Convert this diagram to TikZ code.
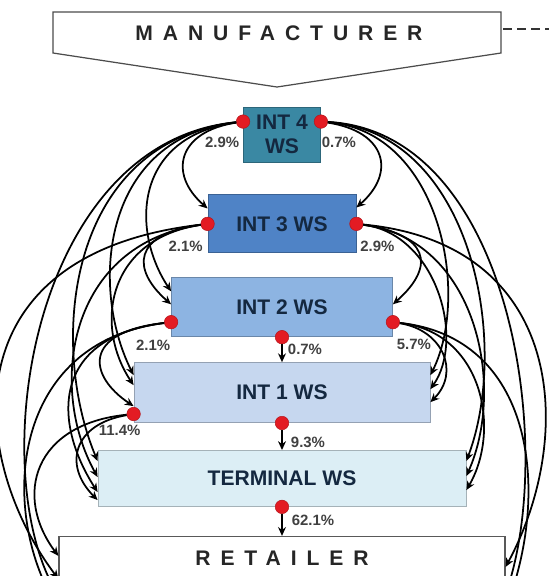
\documentclass[tikz,border=0pt]{standalone}
\usepackage{fontspec}
\setmainfont{Liberation Sans}
\newfontfamily\spacedfont[LetterSpace=47]{Liberation Sans}
\usetikzlibrary{arrows.meta, positioning, calc}
\definecolor{wsteal}{HTML}{3A88A3}
\definecolor{wsblue}{HTML}{4F83C6}
\definecolor{wsmid}{HTML}{8DB4E2}
\definecolor{wslight}{HTML}{C6D7EF}
\definecolor{wspale}{HTML}{DCEEF5}
\definecolor{dotred}{HTML}{E31B23}
\definecolor{wstext}{HTML}{142840}
\tikzset{
    wsbox/.style={rectangle, line width=0.5pt, align=center, inner sep=1pt, text=wstext, font=\bfseries\fontsize{12}{13.6}\selectfont},
    int4box/.style={wsbox, fill=wsteal, draw=wsteal!75!black, minimum width=1.54cm, minimum height=1.1cm},
    int3box/.style={wsbox, fill=wsblue, draw=wsblue!75!black, minimum width=2.96cm, minimum height=1.16cm},
    int2box/.style={wsbox, fill=wsmid, draw=wsmid!75!black, minimum width=4.42cm, minimum height=1.18cm},
    int1box/.style={wsbox, fill=wslight, draw=wslight!75!black, minimum width=5.92cm, minimum height=1.2cm},
    termbox/.style={wsbox, fill=wspale, draw=wspale!75!black, minimum width=7.36cm, minimum height=1.12cm},
    endbox/.style={rectangle, draw=black!65, line width=0.8pt, fill=white, text=black!85, font=\spacedfont\bfseries\fontsize{12}{14}\selectfont},
    reddot/.style={circle, fill=dotred, draw=dotred!80!black, line width=0.3pt, inner sep=0pt, minimum size=0.27cm},
    pct/.style={inner sep=0pt, text=black!75, font=\bfseries\fontsize{8.5}{10}\selectfont},
    flow/.style={-{Stealth[length=5pt, width=4.5pt]}, line width=1pt, draw=black}
}

\begin{document}
\begin{tikzpicture}[x=0.02cm, y=0.02cm]
    \useasboundingbox (0,0) rectangle (549,-576);
    \clip (0,0) rectangle (549,-576);

    % manufacturer
    \draw[fill=white, draw=black!70, line width=0.7pt] (53,-12) -- (501,-12) -- (501,-53) -- (277,-87) -- (53,-53) -- cycle;
    \node[font=\spacedfont\bfseries\fontsize{12}{14}\selectfont, text=black!85] (manu) at (279,-33) {MANUFACTURER};
    \coordinate (manuend) at (503,-29);
    \coordinate (pageend) at (549,-29);
    \draw[dash pattern=on 5pt off 3pt, line width=1pt, black!80] (manuend) -- (pageend);

    % wholesaler levels
    \node[int4box] (int4) at (282,-134.5) {INT 4\\WS};
    \node[int3box, below=0.64cm of int4] (int3) {INT 3 WS};
    \node[int2box, below=0.48cm of int3] (int2) {INT 2 WS};
    \node[int1box, below=0.5cm of int2] (int1) {INT 1 WS};
    \node[termbox, below=0.54cm of int1] (term) {TERMINAL WS};
    \node[endbox, below=0.58cm of term, minimum width=8.92cm, text height=13pt, text depth=12pt] (ret) {RETAILER};

    % outlets
    \node[reddot] (d4l) at ($(int4.north west)+(0,-15)$) {};
    \node[reddot] (d4r) at ($(int4.north east)+(0,-15)$) {};
    \node[reddot] (d3l) at (int3.west) {};
    \node[reddot] (d3r) at (int3.east) {};
    \node[reddot] (d2l) at ($(int2.south west)+(0,15)$) {};
    \node[reddot] (d2c) at (int2.south) {};
    \node[reddot] (d2r) at ($(int2.south east)+(0,15)$) {};
    \node[reddot] (d1l) at ($(int1.south west)+(0,9)$) {};
    \node[reddot] (d1c) at (int1.south) {};
    \node[reddot] (dtc) at (term.south) {};

    \node[pct] (p4l) at ($(d4l)+(-21,-21)$) {2.9\%};
    \node[pct] (p4r) at ($(d4r)+(18,-21)$) {0.7\%};
    \node[pct] (p3l) at ($(d3l)+(-22,-22)$) {2.1\%};
    \node[pct] (p3r) at ($(d3r)+(21,-22)$) {2.9\%};
    \node[pct] (p2l) at ($(d2l)+(-18,-23)$) {2.1\%};
    \node[pct] (p2c) at ($(d2c)+(23,-12)$) {0.7\%};
    \node[pct] (p2r) at ($(d2r)+(21,-22)$) {5.7\%};
    \node[pct] (p1l) at ($(d1l)+(-14,-16)$) {11.4\%};
    \node[pct] (p1c) at ($(d1c)+(26,-19)$) {9.3\%};
    \node[pct] (ptc) at ($(dtc)+(31,-13)$) {62.1\%};

    \draw[flow] (d2c) -- (int1);
    \draw[flow] (d1c) -- (term);
    \draw[flow] (dtc) -- (ret);

    % entry points, left side
    \coordinate (l3a) at ($(int3.north west)+(0,-14)$);
    \coordinate (l2a) at ($(int2.north west)+(0,-14)$);
    \coordinate (l2b) at ($(int2.north west)+(0,-27)$);
    \coordinate (l1a) at ($(int1.north west)+(0,-13)$);
    \coordinate (l1b) at ($(int1.north west)+(0,-23)$);
    \coordinate (l1c) at ($(int1.north west)+(0,-44)$);
    \coordinate (lta) at ($(term.north west)+(0,-11)$);
    \coordinate (ltb) at ($(term.north west)+(0,-27)$);
    \coordinate (ltc) at ($(term.north west)+(0,-42)$);
    \coordinate (ltd) at ($(term.north west)+(0,-50)$);
    \coordinate (lra) at ($(ret.north west)+(0,-20)$);
    \coordinate (lrb) at ($(ret.north west)+(0,-43)$);
    \coordinate (lrc) at ($(ret.north west)+(0,-60)$);
    \coordinate (lrd) at ($(ret.north west)+(0,-73)$);
    % entry points, right side
    \coordinate (r3a) at ($(int3.north east)+(0,-13)$);
    \coordinate (r2a) at ($(int2.north east)+(0,-27)$);
    \coordinate (r1a) at ($(int1.north east)+(0,-13)$);
    \coordinate (r1b) at ($(int1.north east)+(0,-27)$);
    \coordinate (r1c) at ($(int1.north east)+(0,-40)$);
    \coordinate (rta) at ($(term.north east)+(0,-11)$);
    \coordinate (rtb) at ($(term.north east)+(0,-26)$);
    \coordinate (rtc) at ($(term.north east)+(0,-40)$);
    \coordinate (rra) at ($(ret.north east)+(0,-31)$);
    \coordinate (rrb) at ($(ret.north east)+(0,-58)$);
    \coordinate (rrc) at ($(ret.north east)+(0,-73)$);

    % flows, left side
    \draw[flow] (d4l) .. controls +(-65,-10) and +(-40,35) .. (l3a);
    \draw[flow] (d4l) .. controls +(-110,-15) and +(-40,60) .. (l2a);
    \draw[flow] (d4l) .. controls +(-140,-15) and +(-45,90) .. (l1a);
    \draw[flow] (d4l) .. controls +(-175,-20) and +(-50,120) .. (lta);
    \draw[flow] (d4l) .. controls +(-210,-20) and +(-75,130) .. (lrc);
    \draw[flow] (d3l) .. controls +(-75,-10) and +(-40,35) .. (l2b);
    \draw[flow] (d3l) .. controls +(-100,-15) and +(-40,60) .. (l1b);
    \draw[flow] (d3l) .. controls +(-140,-20) and +(-50,90) .. (ltb);
    \draw[flow] (d3l) .. controls +(-260,-30) and +(-90,120) .. (lrb);
    \draw[flow] (d2l) .. controls +(-90,-10) and +(-45,30) .. (l1c);
    \draw[flow] (d2l) .. controls +(-120,-15) and +(-45,70) .. (ltc);
    \draw[flow] (d2l) .. controls +(-160,-20) and +(-60,100) .. (lrd);
    \draw[flow] (d1l) .. controls +(-60,-10) and +(-35,35) .. (ltd);
    \draw[flow] (d1l) .. controls +(-100,-10) and +(-45,60) .. (lra);
    % flows, right side
    \draw[flow] (d4r) .. controls +(65,-10) and +(40,35) .. (r3a);
    \draw[flow] (d4r) .. controls +(120,-10) and +(40,80) .. (r1a);
    \draw[flow] (d4r) .. controls +(150,-10) and +(45,120) .. (rta);
    \draw[flow] (d4r) .. controls +(190,-10) and +(50,150) .. (rrb);
    \draw[flow] (d3r) .. controls +(70,-10) and +(45,40) .. (r2a);
    \draw[flow] (d3r) .. controls +(80,-10) and +(35,50) .. (r1b);
    \draw[flow] (d3r) .. controls +(120,-15) and +(40,90) .. (rtb);
    \draw[flow] (d3r) .. controls +(210,-20) and +(70,130) .. (rra);
    \draw[flow] (d2r) .. controls +(50,-8) and +(30,30) .. (r1c);
    \draw[flow] (d2r) .. controls +(90,-10) and +(35,60) .. (rtc);
    \draw[flow] (d2r) .. controls +(140,-15) and +(45,120) .. (rrc);
\end{tikzpicture}
\end{document}
